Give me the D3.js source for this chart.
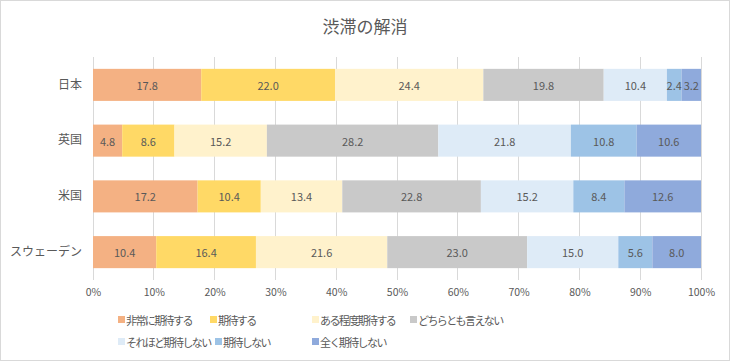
<!DOCTYPE html>
<html><head><meta charset="utf-8">
<script src="https://cdn.jsdelivr.net/npm/d3@7"></script>
<style>body{margin:0;background:#fff}svg{display:block}text{font-family:"Noto Sans CJK JP","Noto Sans",sans-serif;fill:#595959}</style>
</head><body><svg id="c" width="730" height="361"></svg>
<script>
const categories = ["日本","英国","米国","スウェーデン"];
const seriesNames = ["非常に期待する","期待する","ある程度期待する","どちらとも言えない","それほど期待しない","期待しない","全く期待しない"];
const seriesColors = ["#F4B183","#FFD966","#FFF2CC","#C9C9C9","#DEEBF7","#9DC3E6","#8FAADC"];
const v_japan = [17.8,22.0,24.4,19.8,10.4,2.4,3.2];
const v_uk = [4.8,8.6,15.2,28.2,21.8,10.8,10.6];
const v_us = [17.2,10.4,13.4,22.8,15.2,8.4,12.6];
const v_sweden = [10.4,16.4,21.6,23.0,15.0,5.6,8.0];
const tickValues = [0,10,20,30,40,50,60,70,80,90,100];
const title = "渋滞の解消";

const rows = [v_japan,v_uk,v_us,v_sweden];
const svg = d3.select("#c");
svg.append("rect").attr("x",0.5).attr("y",0.5).attr("width",729).attr("height",360).attr("fill","#fff").attr("stroke","#d9d9d9");
svg.append("text").attr("x",365).attr("y",33).attr("text-anchor","middle").style("font-size","17px").text(title);

const x = d3.scaleLinear().domain([0,100]).range([93,701]);
const y = d3.scaleBand().domain(categories).range([57,280]).paddingInner(0.425).paddingOuter(0.2125);

// gridlines
svg.append("g").selectAll("line").data(tickValues).join("line")
  .attr("x1",d=>x(d)).attr("x2",d=>x(d)).attr("y1",57).attr("y2",280)
  .attr("stroke","#d9d9d9").attr("stroke-width",1).attr("shape-rendering","crispEdges");

const xAxis = svg.append("g").attr("transform","translate(0,280)")
  .call(d3.axisBottom(x).tickValues(tickValues).tickFormat(d=>d+"%").tickSize(0).tickPadding(9));
xAxis.select(".domain").remove();
xAxis.selectAll("text").style("font-size","10.5px").attr("fill","#595959");

const yAxis = svg.append("g").attr("transform","translate(82,0)")
  .call(d3.axisLeft(y).tickSize(0).tickPadding(0));
yAxis.select(".domain").remove();
yAxis.selectAll("text").style("font-size","12px").attr("fill","#595959");

const stackData = categories.map((c,i)=>{const o={cat:c}; seriesNames.forEach((s,j)=>o[s]=rows[i][j]); return o;});
const stacked = d3.stack().keys(seriesNames)(stackData);
const g = svg.append("g");
stacked.forEach((layer,j)=>{
  const lg = g.append("g");
  lg.selectAll("rect").data(layer).join("rect")
    .attr("x",d=>x(d[0])).attr("width",d=>x(d[1])-x(d[0]))
    .attr("y",d=>y(d.data.cat)).attr("height",y.bandwidth())
    .attr("fill",seriesColors[j]);
  lg.selectAll("text").data(layer).join("text")
    .attr("x",d=>(x(d[0])+x(d[1]))/2).attr("y",d=>y(d.data.cat)+y.bandwidth()/2)
    .attr("text-anchor","middle").attr("dominant-baseline","central")
    .style("font-size","11px").attr("fill","#404040")
    .text(d=>(d[1]-d[0]).toFixed(1));
});

// legend
const legendPos = [[118,320],[210,320],[312,320],[410,320],[118,342],[215,342],[312,342]];
const lg = svg.append("g");
seriesNames.forEach((s,j)=>{
  const [lx,ly]=legendPos[j];
  lg.append("rect").attr("x",lx).attr("y",ly-4).attr("width",7).attr("height",7).attr("fill",seriesColors[j]);
  lg.append("text").attr("x",lx+8).attr("y",ly).attr("dominant-baseline","central")
    .style("font-size","11px").style("letter-spacing","-1.6px").text(s);
});
</script></body></html>
